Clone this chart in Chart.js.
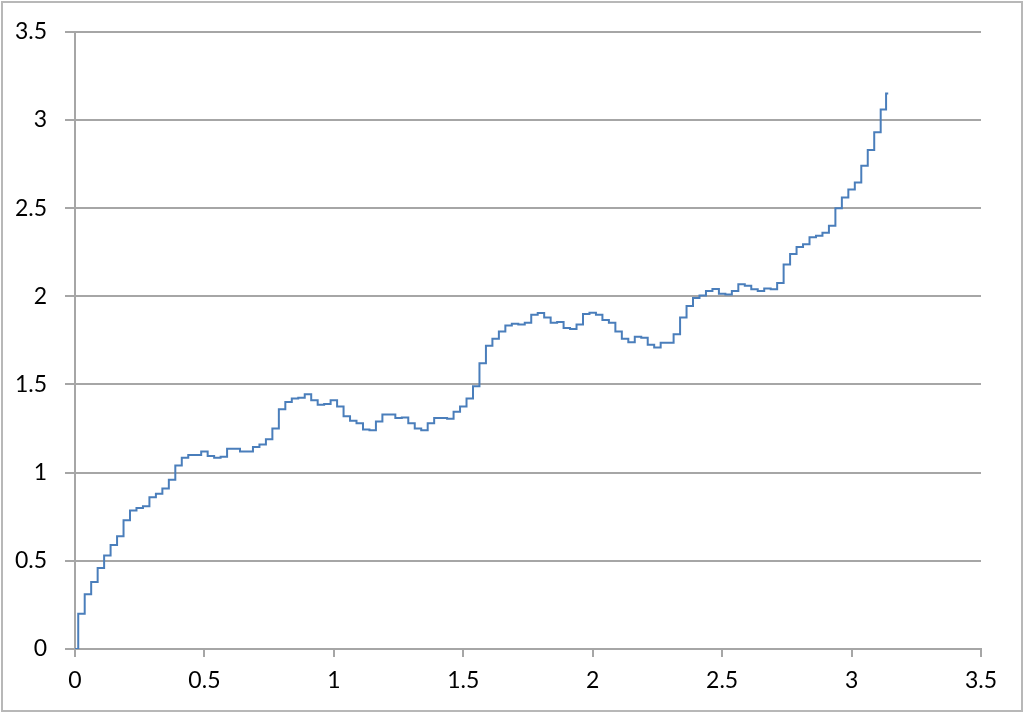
<!DOCTYPE html>
<html lang="en">
<head>
  <meta charset="UTF-8" />
  <title>Step curve</title>
  <script src="https://cdn.jsdelivr.net/npm/chart.js"></script>
  <style>
    html, body {
      margin: 0;
      padding: 0;
      background: #fff;
    }
    #wrap {
      width: 1024px;
      height: 713px;
      position: relative;
    }
  </style>
</head>
<body>
  <div id="wrap"><canvas id="chart" width="1024" height="713"></canvas></div>

  <script>
    const xValues = [
      0, 0.025, 0.05, 0.075, 0.1, 0.125, 0.15, 0.175, 0.2, 0.225,
      0.25, 0.275, 0.3, 0.325, 0.35, 0.375, 0.4, 0.425, 0.45, 0.475,
      0.5, 0.525, 0.55, 0.575, 0.6, 0.625, 0.65, 0.675, 0.7, 0.725,
      0.75, 0.775, 0.8, 0.825, 0.85, 0.875, 0.9, 0.925, 0.95, 0.975,
      1.0, 1.025, 1.05, 1.075, 1.1, 1.125, 1.15, 1.175, 1.2, 1.225,
      1.25, 1.275, 1.3, 1.325, 1.35, 1.375, 1.4, 1.425, 1.45, 1.475,
      1.5, 1.525, 1.55, 1.575, 1.6, 1.625, 1.65, 1.675, 1.7, 1.725,
      1.75, 1.775, 1.8, 1.825, 1.85, 1.875, 1.9, 1.925, 1.95, 1.975,
      2.0, 2.025, 2.05, 2.075, 2.1, 2.125, 2.15, 2.175, 2.2, 2.225,
      2.25, 2.275, 2.3, 2.325, 2.35, 2.375, 2.4, 2.425, 2.45, 2.475,
      2.5, 2.525, 2.55, 2.575, 2.6, 2.625, 2.65, 2.675, 2.7, 2.725,
      2.75, 2.775, 2.8, 2.825, 2.85, 2.875, 2.9, 2.925, 2.95, 2.975,
      3.0, 3.025, 3.05, 3.075, 3.1, 3.125, 3.1416
    ];
    const yValues = [
      0.00, 0.20, 0.31, 0.38, 0.46, 0.53, 0.59, 0.64, 0.73, 0.785,
      0.80, 0.81, 0.86, 0.88, 0.91, 0.96, 1.04, 1.085, 1.10, 1.10,
      1.12, 1.095, 1.085, 1.09, 1.135, 1.135, 1.12, 1.12, 1.145, 1.16,
      1.19, 1.25, 1.36, 1.40, 1.42, 1.425, 1.445, 1.41, 1.385, 1.39,
      1.41, 1.375, 1.32, 1.295, 1.28, 1.245, 1.24, 1.29, 1.33, 1.33,
      1.31, 1.313, 1.28, 1.25, 1.24, 1.28, 1.31, 1.31, 1.305, 1.345,
      1.375, 1.42, 1.49, 1.62, 1.72, 1.76, 1.80, 1.835, 1.845, 1.84,
      1.85, 1.895, 1.905, 1.88, 1.85, 1.855, 1.82, 1.815, 1.84, 1.90,
      1.907, 1.895, 1.865, 1.85, 1.80, 1.76, 1.74, 1.77, 1.765, 1.725,
      1.71, 1.736, 1.736, 1.785, 1.88, 1.945, 1.99, 2.005, 2.03, 2.042,
      2.014, 2.01, 2.03, 2.068, 2.06, 2.04, 2.03, 2.045, 2.04, 2.075,
      2.18, 2.24, 2.28, 2.295, 2.335, 2.343, 2.36, 2.40, 2.50, 2.56,
      2.606, 2.645, 2.74, 2.83, 2.93, 3.06, 3.15
    ];
    const axisMin = 0;
    const axisMax = 3.5;
    const axisStep = 0.5;

    const points = xValues.map((x, i) => ({ x: x, y: yValues[i] }));

    // thin grey frame around the whole picture
    const framePlugin = {
      id: "frame",
      afterDraw(chart) {
        const ctx = chart.ctx;
        ctx.save();
        ctx.strokeStyle = "#b8b8b8";
        ctx.lineWidth = 2;
        ctx.strokeRect(2, 2, chart.width - 4, chart.height - 4);
        ctx.restore();
      }
    };

    const tickFont = { family: "Lato, 'DejaVu Sans', sans-serif", size: 23 };
    const plainNumber = (v) => String(Math.round(v * 10) / 10);

    new Chart(document.getElementById("chart"), {
      type: "line",
      data: {
        datasets: [{
          data: points,
          borderColor: "#4a7ebb",
          borderWidth: 2,
          pointRadius: 0,
          stepped: "middle",
          tension: 0,
          fill: false
        }]
      },
      plugins: [framePlugin],
      options: {
        responsive: false,
        animation: false,
        layout: {
          padding: { left: 0, right: 43, top: 28, bottom: 0 }
        },
        plugins: {
          legend: { display: false },
          tooltip: { enabled: false }
        },
        scales: {
          x: {
            type: "linear",
            min: axisMin,
            max: axisMax,
            ticks: {
              stepSize: axisStep,
              color: "#000",
              font: tickFont,
              padding: 10,
              maxRotation: 0,
              callback: plainNumber
            },
            grid: {
              drawOnChartArea: false,
              drawTicks: true,
              tickLength: 8,
              color: "#a6a6a6",
              lineWidth: 2
            },
            border: { color: "#a6a6a6", width: 2 },
            afterFit: (scale) => { scale.height = 64; }
          },
          y: {
            type: "linear",
            min: axisMin,
            max: axisMax,
            ticks: {
              stepSize: axisStep,
              color: "#000",
              font: tickFont,
              padding: 18,
              callback: plainNumber
            },
            grid: {
              color: "#a6a6a6",
              lineWidth: 2,
              tickLength: 10
            },
            border: { color: "#a6a6a6", width: 2 },
            afterFit: (scale) => { scale.width = 75; }
          }
        }
      }
    });
  </script>
</body>
</html>
